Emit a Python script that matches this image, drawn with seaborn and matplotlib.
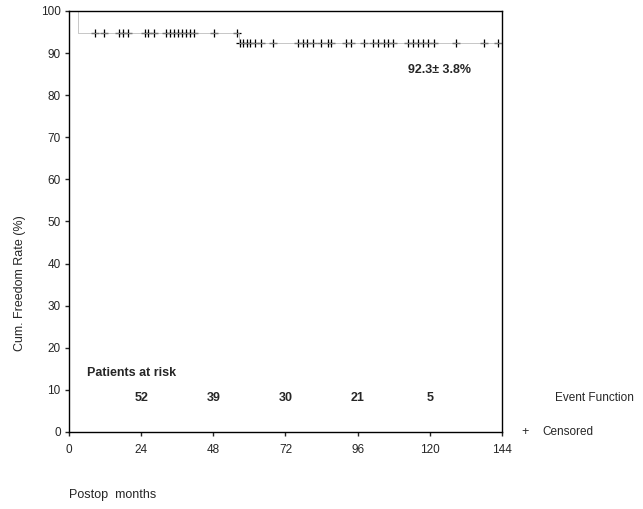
import numpy as np
import pandas as pd
import matplotlib
matplotlib.use('Agg')
import matplotlib.pyplot as plt
import seaborn as sns

# Kaplan-Meier step (months, %)
tempos_evento = [0, 3, 56.5, 144]
sobrevida = [100, 94.7, 92.3, 92.3]

censura_nivel1 = [8.7, 11.7, 16.7, 18, 19.6, 25.3, 26.3, 28.3, 32.3, 33.7, 35, 36.3,
                  37.7, 39, 40.3, 41.7, 48.3, 56.0]
censura_nivel2 = [57, 58, 59.3, 60.3, 62, 63.7, 68, 76, 77.7, 79.3, 81, 83.7, 86.3, 87,
                  92, 93.7, 98, 101, 102.7, 104.7, 106, 107.7, 112.7, 114.3, 116, 117.7,
                  119.3, 121.3, 128.7, 138, 142.7]

meses_risco = [24, 48, 72, 96, 120]
pacientes_risco = [52, 39, 30, 21, 5]

ticks_x = [0, 24, 48, 72, 96, 120, 144]
ticks_y = [0, 10, 20, 30, 40, 50, 60, 70, 80, 90, 100]

sns.set_style('white')
plt.rcParams['font.family'] = ['Liberation Sans Narrow', 'Liberation Sans', 'DejaVu Sans']

df_curva = pd.DataFrame({'tempo': tempos_evento, 'sobrevida': sobrevida})
df_censura = pd.DataFrame({
    'tempo': censura_nivel1 + censura_nivel2,
    'sobrevida': [sobrevida[1]] * len(censura_nivel1) + [sobrevida[2]] * len(censura_nivel2),
})

fig = plt.figure(figsize=(6.43, 5.09), dpi=100)
ax = fig.add_axes([0.1073, 0.1513, 0.6734, 0.8271])

# a linha da curva quase some no original, deixo bem clara
sns.lineplot(data=df_curva, x='tempo', y='sobrevida', estimator=None, sort=False,
             drawstyle='steps-post', color='#b0b0b0', linewidth=0.5, ax=ax)
sns.scatterplot(data=df_censura, x='tempo', y='sobrevida', marker='+', color='black',
                s=30, linewidth=0.9, ax=ax)

ax.set_xlim(0, 144)
ax.set_ylim(0, 100)
ax.set_xticks(ticks_x)
ax.set_yticks(ticks_y)
ax.set_xlabel('')
ax.set_ylabel('')
ax.tick_params(axis='both', labelsize=8.5, length=3, width=1, direction='out',
               left=True, bottom=True, pad=3)
ax.tick_params(axis='x', pad=6)
for lado in ['left', 'bottom', 'top', 'right']:
    ax.spines[lado].set_visible(True)
    ax.spines[lado].set_color('black')
    ax.spines[lado].set_linewidth(1.0)

# patients at risk
ax.text(6, 14, 'Patients at risk', fontsize=9, fontweight='bold', va='center')
for m, n in zip(meses_risco, pacientes_risco):
    ax.text(m, 8, str(n), fontsize=9, fontweight='bold', ha='center', va='center')

ax.text(112.7, 86, '92.3\u00b1 3.8%', fontsize=9, fontweight='bold', va='center')

# legend as text outside the axes
fig.text(555 / 643, 1 - 398 / 509, 'Event Function', fontsize=8.5, va='center')
fig.text(521 / 643, 1 - 432 / 509, '+', fontsize=9, va='center')
fig.text(542 / 643, 1 - 432 / 509, 'Censored', fontsize=8.5, va='center')

fig.text(20 / 643, 1 - 283 / 509, 'Cum. Freedom Rate (%)', fontsize=9,
         rotation=90, ha='center', va='center')
fig.text(69 / 643, 1 - 495 / 509, 'Postop  months', fontsize=9, va='center')

fig.savefig('out.png', dpi=100)
